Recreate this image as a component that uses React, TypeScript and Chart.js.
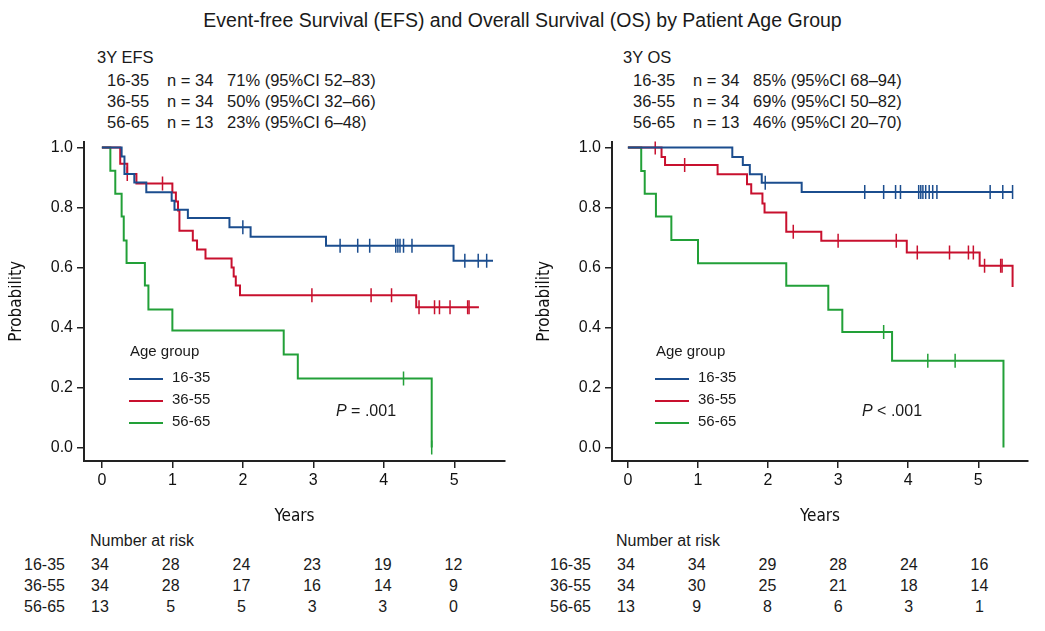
import React, { useEffect, useRef } from "react";
import { Chart, registerables } from "chart.js";
Chart.register(...registerables);

const groups = ["16-35", "36-55", "56-65"];
const colors = ["#1b4d8e", "#c8102e", "#22a038"];

// EFS
const efsBlueT = [0.28, 0.32, 0.46, 0.63, 0.99, 1.03, 1.22, 1.81, 2.11, 3.18, 4.99];
const efsBlueS = [0.97, 0.912, 0.884, 0.851, 0.823, 0.793, 0.765, 0.734, 0.703, 0.673, 0.623];
const efsBlueC = [2.0, 3.38, 3.63, 3.8, 4.17, 4.2, 4.23, 4.28, 4.4, 5.15, 5.34, 5.46];
const efsBlueEnd = 5.55;
const efsRedT = [0.26, 0.36, 0.49, 1.0, 1.05, 1.08, 1.1, 1.29, 1.35, 1.47, 1.84, 1.87, 1.9, 1.96, 4.46];
const efsRedS = [0.946, 0.912, 0.88, 0.85, 0.82, 0.79, 0.723, 0.69, 0.66, 0.63, 0.6, 0.57, 0.54, 0.508, 0.468];
const efsRedC = [0.36, 0.86, 2.98, 3.82, 4.11, 4.5, 4.72, 4.79, 4.94, 5.19, 5.21];
const efsRedEnd = 5.35;
const efsGreenT = [0.12, 0.19, 0.28, 0.31, 0.35, 0.61, 0.66, 1.0, 2.58, 2.78, 4.68];
const efsGreenS = [0.923, 0.846, 0.77, 0.69, 0.615, 0.54, 0.46, 0.39, 0.31, 0.23, 0.0];
const efsGreenC = [4.28, 4.68];
const efsGreenEnd = 4.68;

// OS
const osBlueT = [1.49, 1.64, 1.74, 1.91, 2.48];
const osBlueS = [0.969, 0.942, 0.911, 0.883, 0.852];
const osBlueC = [1.96, 3.38, 3.65, 3.82, 3.89, 4.15, 4.18, 4.21, 4.25, 4.3, 4.35, 4.41, 5.17, 5.35, 5.49];
const osBlueEnd = 5.49;
const osRedT = [0.48, 0.53, 1.28, 1.7, 1.76, 1.92, 1.95, 2.26, 2.76, 3.98, 5.02, 5.49];
const osRedS = [0.969, 0.942, 0.911, 0.878, 0.847, 0.814, 0.784, 0.719, 0.689, 0.65, 0.606, 0.535];
const osRedC = [0.39, 0.81, 2.36, 3.0, 3.83, 4.13, 4.59, 4.86, 4.93, 5.09, 5.32, 5.34];
const osRedEnd = 5.49;
const osGreenT = [0.19, 0.24, 0.4, 0.62, 1.0, 2.26, 2.86, 3.06, 3.77, 5.36];
const osGreenS = [0.922, 0.846, 0.77, 0.692, 0.614, 0.539, 0.459, 0.385, 0.289, 0.0];
const osGreenC = [3.65, 4.28, 4.67];
const osGreenEnd = 5.36;

const efsStats = ["n = 34   71% (95%CI 52–83)", "n = 34   50% (95%CI 32–66)", "n = 13   23% (95%CI 6–48)"];
const osStats = ["n = 34   85% (95%CI 68–94)", "n = 34   69% (95%CI 50–82)", "n = 13   46% (95%CI 20–70)"];
const efsRisk = [[34, 28, 24, 23, 19, 12], [34, 28, 17, 16, 14, 9], [13, 5, 5, 3, 3, 0]];
const osRisk = [[34, 34, 29, 28, 24, 16], [34, 30, 25, 21, 18, 14], [13, 9, 8, 6, 3, 1]];
const xTicks = [0, 1, 2, 3, 4, 5];

const FONT = "'Liberation Sans', Arial, sans-serif";
const NARROW = "'DejaVu Sans Condensed', 'Liberation Sans Narrow', " + FONT;

function km(T: number[], S: number[], end: number) {
  const pts = [{ x: 0, y: 1 }];
  T.forEach((t, i) => pts.push({ x: t, y: S[i] }));
  const last = pts[pts.length - 1];
  if (end > last.x) pts.push({ x: end, y: last.y });
  return pts;
}
function censor(T: number[], S: number[], C: number[]) {
  return C.map((c) => {
    let s = 1;
    T.forEach((t, i) => { if (t <= c) s = S[i]; });
    return { x: c, y: s };
  });
}

function KMChart({ series, xmin, xmax, width }: any) {
  const ref = useRef<HTMLCanvasElement>(null);
  useEffect(() => {
    const datasets: any[] = [];
    series.forEach((s: any, i: number) => {
      datasets.push({ type: "line", data: km(s.T, s.S, s.end), stepped: "before", borderColor: colors[i], borderWidth: 2, pointRadius: 0, fill: false });
      datasets.push({ type: "scatter", data: censor(s.T, s.S, s.C), pointStyle: "line", rotation: 90, pointRadius: 7, borderColor: colors[i], pointBorderWidth: 1.5, borderWidth: 1.5, showLine: false });
    });
    const chart = new Chart(ref.current!, {
      type: "line",
      data: { datasets },
      options: {
        animation: false, responsive: false, maintainAspectRatio: false,
        layout: { padding: { top: 6, right: 12, left: 0, bottom: 0 } },
        plugins: { legend: { display: false }, tooltip: { enabled: false } },
        scales: {
          x: {
            type: "linear", min: xmin, max: xmax,
            afterFit: (a: any) => { a.height = 70; },
            afterBuildTicks: (a: any) => { a.ticks = xTicks.map((v) => ({ value: v })); },
            grid: { drawOnChartArea: false, drawTicks: true, tickLength: 7, color: "#222", lineWidth: 1.5 },
            border: { color: "#222", width: 2 },
            ticks: { color: "#111", font: { family: FONT, size: 16 }, padding: 3 },
            title: { display: true, text: "Years", color: "#111", font: { family: NARROW, size: 17 }, padding: { top: 2 } },
          },
          y: {
            min: -0.045, max: 1.02,
            afterFit: (a: any) => { a.width = 82; },
            afterBuildTicks: (a: any) => { a.ticks = [0, 0.2, 0.4, 0.6, 0.8, 1.0].map((v) => ({ value: v })); },
            grid: { drawOnChartArea: false, drawTicks: true, tickLength: 7, color: "#222", lineWidth: 1.5 },
            border: { color: "#222", width: 2 },
            ticks: { color: "#111", font: { family: FONT, size: 16 }, padding: 4, callback: (v: any) => Number(v).toFixed(1) },
            title: { display: true, text: "Probability", color: "#111", font: { family: NARROW, size: 17 }, padding: { bottom: 2 } },
          },
        },
      },
    });
    return () => chart.destroy();
  }, []);
  return <canvas ref={ref} width={width} height={403} style={{ width, height: 403 }} />;
}

const abs = (l: number, t: number, extra: any = {}) => ({ position: "absolute" as const, left: l, top: t, whiteSpace: "pre" as const, ...extra });

function Panel({ left, canvasLeft, canvasWidth, xmin, xmax, zeroX, label, stats, risk, pText, series }: any) {
  const legendTop = 342;
  return (
    <>
      <div style={abs(left + 97, 48, { fontSize: 16.5 })}>{label}</div>
      {groups.map((g, i) => (
        <React.Fragment key={g}>
          <div style={abs(left + 107, 71 + i * 21, { fontSize: 16.5 })}>{g}</div>
          <div style={abs(left + 167, 71 + i * 21, { fontSize: 16.5 })}>{stats[i]}</div>
        </React.Fragment>
      ))}
      <div style={abs(canvasLeft, 128)}><KMChart series={series} xmin={xmin} xmax={xmax} width={canvasWidth} /></div>
      <div style={abs(left + 130, legendTop, { fontSize: 15 })}>Age group</div>
      {groups.map((g, i) => (
        <React.Fragment key={g}>
          <div style={abs(left + 129, legendTop + 36 + i * 22, { width: 34, height: 2, background: colors[i] })} />
          <div style={abs(left + 172, legendTop + 26 + i * 22, { fontSize: 15 })}>{g}</div>
        </React.Fragment>
      ))}
      <div style={abs(left + 336, 402, { fontSize: 16 })}><i>P</i>{pText}</div>
      <div style={abs(left + 90, 532, { fontSize: 16 })}>Number at risk</div>
      {groups.map((g, i) => (
        <React.Fragment key={g}>
          <div style={abs(left + 24, 556 + i * 21, { fontSize: 16 })}>{g}</div>
          {risk[i].map((v: number, k: number) => (
            <div key={k} style={abs(zeroX + k * 70.7 - 20, 556 + i * 21, { fontSize: 16, width: 40, textAlign: "center" })}>{v}</div>
          ))}
        </React.Fragment>
      ))}
    </>
  );
}

export default function App() {
  return (
    <div style={{ position: "relative", width: 1045, height: 631, margin: -8, fontFamily: FONT, color: "#1a1a1a", background: "#fff", overflow: "hidden" }}>
      <div style={abs(0, 9, { width: 1045, textAlign: "center", fontSize: 19.5 })}>Event-free Survival (EFS) and Overall Survival (OS) by Patient Age Group</div>
      <Panel left={0} canvasLeft={2} canvasWidth={515} xmin={-0.254} xmax={5.72} zeroX={100}
        label="3Y EFS" stats={efsStats} risk={efsRisk} pText=" = .001"
        series={[
          { T: efsBlueT, S: efsBlueS, C: efsBlueC, end: efsBlueEnd },
          { T: efsRedT, S: efsRedS, C: efsRedC, end: efsRedEnd },
          { T: efsGreenT, S: efsGreenS, C: efsGreenC, end: efsGreenEnd },
        ]} />
      <Panel left={526} canvasLeft={530} canvasWidth={510} xmin={-0.227} xmax={5.71} zeroX={626}
        label="3Y OS" stats={osStats} risk={osRisk} pText=" < .001"
        series={[
          { T: osBlueT, S: osBlueS, C: osBlueC, end: osBlueEnd },
          { T: osRedT, S: osRedS, C: osRedC, end: osRedEnd },
          { T: osGreenT, S: osGreenS, C: osGreenC, end: osGreenEnd },
        ]} />
    </div>
  );
}
